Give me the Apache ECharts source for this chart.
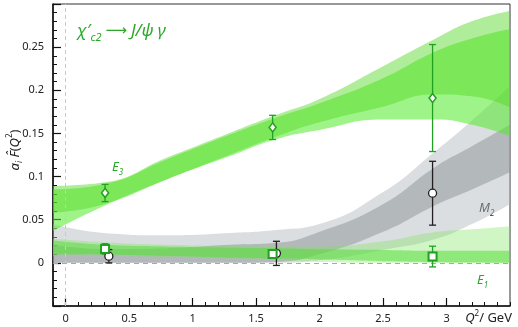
<!DOCTYPE html>
<html>
<head>
<meta charset="utf-8">
<script src="https://cdn.jsdelivr.net/npm/echarts@6.0.0/dist/echarts.min.js"></script>
<style>
  html, body { margin: 0; padding: 0; background: #fff; }
  #main { width: 518px; height: 327px; }
</style>
</head>
<body>
<div id="main"></div>
<script>
var qGrid = [-0.1, 0.3, 0.8, 1.3, 1.65, 2.0, 2.5, 2.9, 3.2, 3.5];

// E3: two overlapping fit bands
var e3UpLo = [0.058, 0.068, 0.097, 0.126, 0.146, 0.163, 0.181, 0.195, 0.193, 0.180];
var e3UpHi = [0.089, 0.093, 0.122, 0.151, 0.171, 0.190, 0.228, 0.259, 0.280, 0.292];
var e3LoLo = [0.037, 0.066, 0.097, 0.124, 0.143, 0.154, 0.166, 0.166, 0.160, 0.147];
var e3LoHi = [0.085, 0.091, 0.120, 0.149, 0.168, 0.185, 0.214, 0.244, 0.260, 0.271];

// M2: outer (light) and inner (dark) bands
var m2OutLo = [-0.0097, -0.0097, -0.011, -0.0116, -0.008, 0.003, 0.015, 0.027, 0.045, 0.068];
var m2OutHi = [0.035, 0.025, 0.021, 0.023, 0.030, 0.045, 0.082, 0.128, 0.165, 0.205];
var m2InLo = [-0.002, -0.001, -0.004, -0.006, 0.001, 0.010, 0.036, 0.066, 0.085, 0.105];
var m2InHi = [0.019, 0.015, 0.013, 0.015, 0.023, 0.036, 0.068, 0.110, 0.135, 0.160];

// E1: outer and inner bands
var e1OutLo = [0.008, 0.008, 0.0065, 0.005, 0.003, 0.001, -0.004, -0.0105, -0.012, -0.0135];
var e1OutHi = [0.028, 0.024, 0.021, 0.0195, 0.019, 0.019, 0.021, 0.025, 0.027, 0.029];
var e1InLo = [0.010, 0.0095, 0.008, 0.006, 0.005, 0.004, 0.002, 0.0008, 0.0005, 0.000];
var e1InHi = [0.026, 0.021, 0.019, 0.0175, 0.017, 0.0158, 0.015, 0.014, 0.014, 0.014];

// lattice points with errors
var e3Q = [0.31, 1.63, 2.89];
var e3Val = [0.081, 0.157, 0.191];
var e3Err = [0.010, 0.014, 0.062];
var m2Q = [0.34, 1.66, 2.89];
var m2Val = [0.0077, 0.011, 0.0807];
var m2Err = [0.0077, 0.014, 0.037];
var e1Q = [0.31, 1.63, 2.89];
var e1Val = [0.0162, 0.0104, 0.0073];
var e1Err = [0.006, 0.003, 0.012];

var F = '"Noto Sans", "DejaVu Sans", sans-serif';
var green = '#22a022';

var myChart = echarts.init(document.getElementById('main'), null, { renderer: 'canvas' });

// band = invisible lower line + stacked width with area fill
function band(id, lo, hi, color) {
  var base = qGrid.map(function (q, i) { return [lo[i], q]; });
  var width = qGrid.map(function (q, i) { return [hi[i] - lo[i], q]; });
  var common = {
    type: 'line', stack: id, encode: { x: 1, y: 0 }, smooth: 0.5,
    symbol: 'none', showSymbol: false, silent: true, z: 2,
    lineStyle: { width: 0, opacity: 0 }
  };
  return [
    Object.assign({}, common, { data: base }),
    Object.assign({}, common, { data: width, areaStyle: { color: color, opacity: 1 } })
  ];
}

function renderErr(params, api) {
  var q = api.value(0);
  var top = api.coord([q, api.value(2)]);
  var bot = api.coord([q, api.value(1)]);
  var w = 3.5;
  var st = { stroke: api.visual('color'), lineWidth: 1.3 };
  return {
    type: 'group',
    children: [
      { type: 'line', shape: { x1: top[0], y1: top[1], x2: bot[0], y2: bot[1] }, style: st },
      { type: 'line', shape: { x1: top[0] - w, y1: top[1], x2: top[0] + w, y2: top[1] }, style: st },
      { type: 'line', shape: { x1: bot[0] - w, y1: bot[1], x2: bot[0] + w, y2: bot[1] }, style: st }
    ]
  };
}

function errSeries(qs, vals, errs, color) {
  return {
    type: 'custom', renderItem: renderErr, silent: true, z: 5,
    itemStyle: { color: color },
    encode: { x: 0, y: [1, 2] },
    data: qs.map(function (q, i) { return [q, vals[i] - errs[i], vals[i] + errs[i]]; })
  };
}

function pointSeries(qs, vals, symbol, size, border, bw) {
  return {
    type: 'scatter', symbol: symbol, symbolSize: size, silent: true, z: 6,
    itemStyle: { color: '#fff', borderColor: border, borderWidth: bw, opacity: 1 },
    data: qs.map(function (q, i) { return [q, vals[i]]; })
  };
}

function yFmt(v) {
  if (v < -0.01 || v > 0.29) return '';
  return String(parseFloat(v.toFixed(2)));
}
function xFmt(v) {
  if (v < -0.01 || v > 3.4) return '';
  return String(parseFloat(v.toFixed(1)));
}

function subLabel(main, sub, color, x, y) {
  return {
    type: 'text', left: x, top: y, silent: true,
    style: {
      text: '{e|' + main + '}{s|' + sub + '}',
      rich: {
        e: { fill: color, fontFamily: F, fontStyle: 'italic', fontSize: 13, lineHeight: 18 },
        s: { fill: color, fontFamily: F, fontStyle: 'italic', fontSize: 8, lineHeight: 9, verticalAlign: 'bottom' }
      }
    }
  };
}

var series = [].concat(
  band('m2o', m2OutLo, m2OutHi, 'rgba(175,182,186,0.45)'),
  band('m2i', m2InLo, m2InHi, 'rgba(140,145,150,0.5)'),
  band('e3l', e3LoLo, e3LoHi, 'rgba(80,235,40,0.55)'),
  band('e3u', e3UpLo, e3UpHi, 'rgba(80,215,30,0.45)'),
  band('e1o', e1OutLo, e1OutHi, 'rgba(120,230,90,0.35)'),
  band('e1i', e1InLo, e1InHi, 'rgba(90,220,60,0.55)'),
  [
    {
      type: 'line', data: [], z: 3, silent: true,
      markLine: {
        silent: true, symbol: ['none', 'none'], label: { show: false },
        data: [
          { xAxis: 0, lineStyle: { color: '#c3cbcf', width: 1, type: [4, 3] } },
          { yAxis: 0, lineStyle: { color: '#a9a9a9', width: 1, type: [5, 4] } }
        ]
      }
    },
    errSeries(m2Q, m2Val, m2Err, '#231f20'),
    errSeries(e3Q, e3Val, e3Err, green),
    errSeries(e1Q, e1Val, e1Err, green),
    pointSeries(m2Q, m2Val, 'circle', 8, '#231f20', 1.3),
    pointSeries(e3Q, e3Val, 'diamond', [7, 9], green, 1.5),
    pointSeries(e1Q, e1Val, 'rect', 8, green, 2)
  ]
);

var option = {
  animation: false,
  backgroundColor: '#fff',
  title: {
    left: 72, top: 14,
    text: '{m|χ′}{s|c2}{a| ⟶ }{m|J/ψ γ}',
    textStyle: {
      rich: {
        m: { fontFamily: F, fontStyle: 'italic', fontWeight: 'normal', fontSize: 17, color: '#2aa82a', lineHeight: 24 },
        s: { fontFamily: F, fontStyle: 'italic', fontWeight: 'normal', fontSize: 11, color: '#2aa82a', lineHeight: 12, verticalAlign: 'bottom' },
        a: { fontFamily: F, fontWeight: 'normal', fontSize: 15, color: '#2aa82a', lineHeight: 24 }
      }
    }
  },
  grid: {
    left: 53, right: 8, top: 4, bottom: 21,
    show: true, borderColor: '#333', borderWidth: 1, backgroundColor: 'transparent',
    outerBoundsMode: 'none'
  },
  xAxis: [
    {
      type: 'value', min: -0.1, max: 3.5, interval: 0.1, position: 'bottom',
      axisLine: { show: true, onZero: false, lineStyle: { color: '#111', width: 1.6 } },
      axisTick: { show: true, inside: true, length: 4, lineStyle: { color: '#111', width: 1 } },
      axisLabel: { show: false },
      splitLine: { show: false }
    },
    {
      type: 'value', min: -0.1, max: 3.5, splitNumber: 7, position: 'bottom',
      axisLine: { show: false, onZero: false },
      axisTick: { show: true, inside: true, length: 8, lineStyle: { color: '#111', width: 1.2 } },
      axisLabel: {
        margin: 7, fontSize: 11, color: '#222', fontFamily: F,
        showMinLabel: false, showMaxLabel: false, formatter: xFmt
      },
      splitLine: { show: false }
    }
  ],
  yAxis: {
    type: 'value', min: -0.05, max: 0.3, interval: 0.05,
    axisLine: { show: true, onZero: false, lineStyle: { color: '#111', width: 1.6 } },
    axisTick: { show: true, inside: true, length: 8, lineStyle: { color: '#111', width: 1.2 } },
    minorTick: { show: true, splitNumber: 5, length: 4, lineStyle: { color: '#111', width: 1 } },
    axisLabel: { margin: 9, fontSize: 11, color: '#222', fontFamily: F, formatter: yFmt },
    splitLine: { show: false },
    minorSplitLine: { show: false }
  },
  graphic: [
    {
      // y axis title, rotated to read bottom-to-top
      type: 'text', x: 15, y: 150, rotation: Math.PI / 2, silent: true,
      style: {
        text: '{i|a}{s|i}{n| }{i|F\u0302}{n|(}{i|Q}{p|2}{n|)}',
        align: 'center', verticalAlign: 'middle',
        rich: {
          i: { fill: '#222', fontFamily: F, fontStyle: 'italic', fontSize: 13, lineHeight: 18 },
          n: { fill: '#222', fontFamily: F, fontSize: 13, lineHeight: 18 },
          s: { fill: '#222', fontFamily: F, fontStyle: 'italic', fontSize: 8, lineHeight: 9, verticalAlign: 'bottom' },
          p: { fill: '#222', fontFamily: F, fontSize: 8, lineHeight: 9, verticalAlign: 'top' }
        }
      }
    },
    subLabel('E', '3', '#2aa82a', 112, 161),
    subLabel('M', '2', '#333', 479, 202),
    subLabel('E', '1', '#2aa82a', 477, 274),
    {
      type: 'text', right: 6, top: 310, silent: true,
      style: {
        text: '{q|Q}{p|2}{n|/ GeV}',
        rich: {
          q: { fill: '#222', fontFamily: F, fontStyle: 'italic', fontSize: 13, lineHeight: 17 },
          p: { fill: '#222', fontFamily: F, fontSize: 8, lineHeight: 9, verticalAlign: 'top' },
          n: { fill: '#222', fontFamily: F, fontSize: 13, lineHeight: 17 }
        }
      }
    }
  ],
  series: series
};

option && myChart.setOption(option);
</script>
</body>
</html>
